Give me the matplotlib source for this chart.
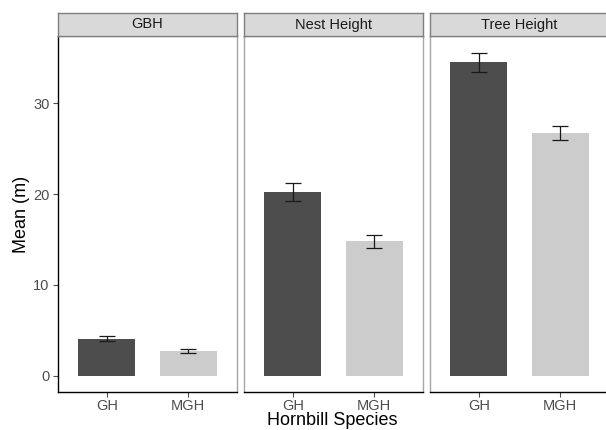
import numpy as np
import matplotlib
matplotlib.use("Agg")
import matplotlib.pyplot as plt

plt.rcParams["font.family"] = ["Liberation Sans", "DejaVu Sans"]

# data
facets = ["GBH", "Nest Height", "Tree Height"]
species = ["GH", "MGH"]
means = {
    "GBH": [4.1, 2.7],
    "Nest Height": [20.2, 14.8],
    "Tree Height": [34.5, 26.7],
}
errs = {
    "GBH": [0.25, 0.2],
    "Nest Height": [1.0, 0.75],
    "Tree Height": [1.05, 0.8],
}
yticks = [0, 10, 20, 30]

W, H = 606, 430
fig = plt.figure(figsize=(W / 100, H / 100), dpi=100)

bar_cols = ["#4d4d4d", "#cccccc"]
border = "#a6a6a6"


def px(l, t, w, h):
    # pixel box (from top left) -> figure fraction
    return [l / W, (H - t - h) / H, w / W, h / H]


lefts = [58, 244, 430]
pw = 179
top, bottom = 36, 392
x = np.arange(1, len(species) + 1)

for i, f in enumerate(facets):
    ax = fig.add_axes(px(lefts[i], top, pw, bottom - top))
    ax.bar(x, means[f], width=0.7, color=bar_cols)
    ax.errorbar(x, means[f], yerr=errs[f], fmt="none", ecolor="#1a1a1a",
                elinewidth=0.9, capsize=6, capthick=0.9)
    ax.set_xlim(0.4, 2.6)
    ax.set_ylim(-1.78, 37.4)
    ax.set_xticks(x)
    ax.set_xticklabels(species)
    ax.set_yticks(yticks)
    ax.tick_params(colors="#4d4d4d", labelcolor="#4d4d4d", labelsize=10.5,
                   length=3.5, width=0.8, pad=2.5)
    ax.tick_params(axis="x", pad=1.5)
    for s in ax.spines.values():
        s.set_color(border)
        s.set_linewidth(1.0)
    ax.spines["bottom"].set_color("black")
    if i == 0:
        ax.spines["left"].set_color("black")
    else:
        ax.tick_params(axis="y", left=False, labelleft=False)

    # facet strip
    st = fig.add_axes(px(lefts[i], 13, pw, top - 13))
    st.set_facecolor("#d9d9d9")
    st.set_xticks([])
    st.set_yticks([])
    for s in st.spines.values():
        s.set_color("#7f7f7f")
        s.set_linewidth(1.0)
    st.text(0.5, 0.5, f, ha="center", va="center", fontsize=10.5,
            color="#1a1a1a", transform=st.transAxes)

fig.text(22 / W, 1 - 214 / H, "Mean (m)", rotation=90, ha="center",
         va="center", fontsize=13)
fig.text(332 / W, 1 - 412 / H, "Hornbill Species", ha="center",
         va="top", fontsize=13)

fig.savefig("out.png", dpi=100)
